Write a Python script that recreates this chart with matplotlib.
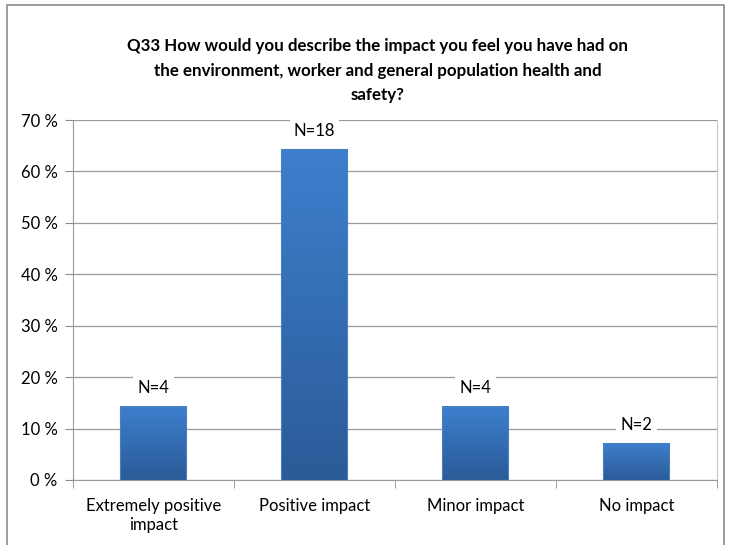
import numpy as np
import matplotlib
matplotlib.use("Agg")
import matplotlib.pyplot as plt
from matplotlib.colors import LinearSegmentedColormap
from matplotlib.patches import Rectangle

# data
categories = ["Extremely positive\nimpact", "Positive impact", "Minor impact", "No impact"]
counts = [4, 18, 4, 2]
total = 28
percent = [100.0 * c / total for c in counts]
bar_labels = ["N=4", "N=18", "N=4", "N=2"]
yticks = [0, 10, 20, 30, 40, 50, 60, 70]

plt.rcParams["font.family"] = ["Lato", "DejaVu Sans"]

fig = plt.figure(figsize=(7.29, 5.45), dpi=100)
ax = fig.add_axes([0.1001, 0.1193, 0.8834, 0.6605])

# outer chart frame
fig.patches.append(Rectangle((7 / 729, -0.05), (724 - 7) / 729, 1.05 - 5 / 545,
                             transform=fig.transFigure, fill=False,
                             edgecolor="#8c8c8c", linewidth=1.2))

x = np.arange(len(categories))
width = 0.41
grad = LinearSegmentedColormap.from_list("bluegrad", ["#2b5b98", "#3d7fcd"])
bars = ax.bar(x, percent, width=width, color="none", edgecolor="none", zorder=3)
for b in bars:
    x0, w, h = b.get_x(), b.get_width(), b.get_height()
    ax.imshow(np.linspace(0, 1, 100).reshape(-1, 1), cmap=grad, aspect="auto",
              extent=[x0, x0 + w, 0, h], origin="lower", zorder=3)
    ax.add_patch(Rectangle((x0, 0), w, h, fill=False, edgecolor="#4a7fc0",
                           linewidth=0.8, zorder=4))

for xi, p, lab in zip(x, percent, bar_labels):
    ax.text(xi, p + 2.0, lab, ha="center", va="bottom", fontsize=12,
            bbox=dict(facecolor="white", edgecolor="none", pad=3), zorder=5)

ax.set_xlim(-0.5, len(categories) - 0.5)
ax.set_ylim(0, 70)
ax.set_yticks(yticks)
ax.set_yticklabels(["%d %%" % t for t in yticks], fontsize=12)
ax.set_xticks(x)
ax.set_xticklabels(categories, fontsize=12, linespacing=1.2)
ax.set_xticks(np.arange(-0.5, len(categories)), minor=True)
ax.tick_params(axis="x", which="major", length=0, pad=13)
ax.tick_params(axis="x", which="minor", length=6, color="#8c8c8c")
ax.tick_params(axis="y", length=6, color="#8c8c8c", pad=5)
ax.grid(axis="y", color="#9a9a9a", linewidth=0.9, zorder=0)
ax.set_axisbelow(True)
for s in ax.spines.values():
    s.set_color("#9a9a9a")
ax.spines["top"].set_visible(False)
ax.spines["right"].set_color("#c8c8c8")

fig.text(0.518, 0.93, "Q33 How would you describe the impact you feel you have had on\n"
         "the environment, worker and general population health and\nsafety?",
         ha="center", va="top", fontsize=12.2, fontweight="bold", linespacing=1.65)

fig.savefig("out.png", dpi=100)
